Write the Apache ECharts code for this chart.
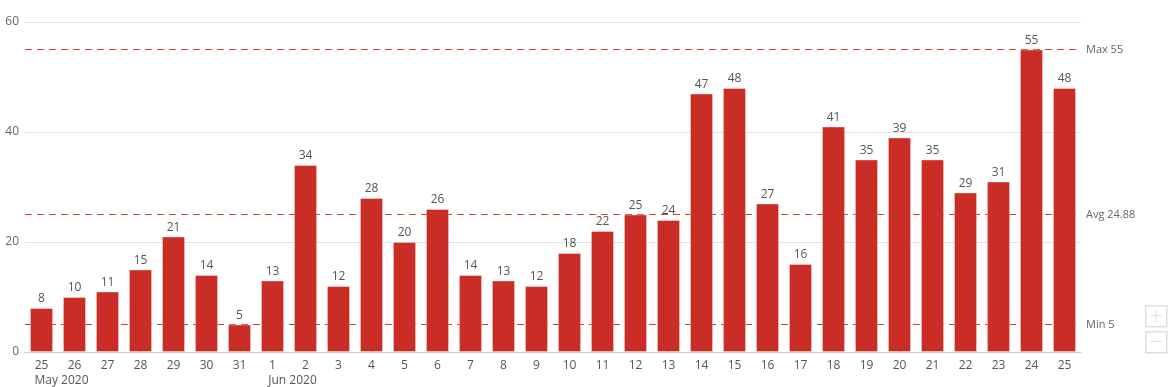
<!DOCTYPE html>
<html>
<head>
<meta charset="utf-8">
<script src="https://cdn.jsdelivr.net/npm/echarts@6/dist/echarts.min.js"></script>
<style>
html,body{margin:0;padding:0;background:#fff;}
#chart{width:1168px;height:387px;}
</style>
</head>
<body>
<div id="chart"></div>
<script>
const days = ['25','26','27','28','29','30','31','1','2','3','4','5','6','7','8','9','10','11','12','13','14','15','16','17','18','19','20','21','22','23','24','25'];
const monthLabels = {0: 'May 2020', 7: 'Jun 2020'};
const values = [8,10,11,15,21,14,5,13,34,12,28,20,26,14,13,12,18,22,25,24,47,48,27,16,41,35,39,35,29,31,55,48];
const yTicks = {min: 0, max: 60, interval: 20};

const barColor = '#c92d25';
const font = 'Open Sans';
const maxV = Math.max.apply(null, values);
const minV = Math.min.apply(null, values);
const avgV = values.reduce((a, b) => a + b, 0) / values.length;

const chart = echarts.init(document.getElementById('chart'));
chart.setOption({
  animation: false,
  textStyle: {fontFamily: font},
  grid: {left: 25, right: 87, top: 22, bottom: 35, outerBoundsMode: 'none', containLabel: false},
  xAxis: {
    type: 'category',
    data: days,
    axisLine: {lineStyle: {color: '#cccccc'}},
    axisTick: {alignWithLabel: true, length: 5, lineStyle: {color: '#cccccc'}},
    axisLabel: {
      interval: 0,
      margin: 6,
      color: '#555',
      fontSize: 12,
      fontFamily: font,
      formatter: function (v, i) {
        return monthLabels[i] ? '{d|' + v + '}\n{m|' + monthLabels[i] + '}' : '{d|' + v + '}';
      },
      rich: {
        d: {fontSize: 12, color: '#555', fontFamily: font, lineHeight: 15},
        m: {fontSize: 12, color: '#555', fontFamily: font, lineHeight: 15, padding: [0, 0, 0, 40]}
      }
    }
  },
  yAxis: {
    type: 'value',
    min: yTicks.min, max: yTicks.max, interval: yTicks.interval,
    axisLine: {show: false},
    axisTick: {show: false},
    axisLabel: {color: '#666', fontSize: 12, margin: 6, fontFamily: font},
    splitLine: {lineStyle: {color: '#e2e2e2'}}
  },
  series: [
    {
      type: 'bar',
      data: values,
      z: 3,
      barWidth: '70%',
      itemStyle: {color: barColor, borderColor: 'rgba(255,255,255,0.35)', borderWidth: 1},
      label: {show: true, position: 'top', distance: 3, color: '#555', fontSize: 12, fontFamily: font}
    }
  ],
  graphic: [
    {type: 'rect', left: 1145, top: 305, shape: {width: 21, height: 21}, style: {fill: '#fff', stroke: '#e0e0e0', lineWidth: 1.5}},
    {type: 'rect', left: 1150, top: 315, shape: {width: 12, height: 1}, style: {fill: '#e0e0e0'}},
    {type: 'rect', left: 1155.5, top: 309.5, shape: {width: 1, height: 12}, style: {fill: '#e0e0e0'}},
    {type: 'rect', left: 1145, top: 331, shape: {width: 21, height: 21}, style: {fill: '#fff', stroke: '#e0e0e0', lineWidth: 1.5}},
    {type: 'rect', left: 1150, top: 341, shape: {width: 12, height: 1}, style: {fill: '#e0e0e0'}}
  ]
});

// Reference lines (max / average / min) drawn beneath the bars, placed via the chart's own scales
function drawRefLines() {
  const xa = chart.convertToPixel({xAxisIndex: 0}, 0);
  const xb = chart.convertToPixel({xAxisIndex: 0}, 1);
  const xz = chart.convertToPixel({xAxisIndex: 0}, values.length - 1);
  const band = xb - xa;
  const x0 = xa - band / 2;
  const x1 = xz + band / 2;
  const items = [['Max', maxV], ['Avg', avgV], ['Min', minV]];
  const g = [];
  items.forEach(function (it, k) {
    const y = Math.round(chart.convertToPixel({yAxisIndex: 0}, it[1])) - 0.5;
    g.push({id: 'rl' + k, type: 'line', z: 1, silent: true,
      shape: {x1: x0, y1: y, x2: x1, y2: y},
      style: {stroke: '#db3a31', lineWidth: 1.2, lineDash: [7, 5]}});
    g.push({id: 'rt' + k, type: 'text', z: 1, silent: true, x: x1 + 5, y: y + 0.5,
      style: {text: it[0] + ' ' + (Math.round(it[1] * 100) / 100), fill: '#666', font: '11px "Open Sans"', verticalAlign: 'middle', align: 'left'}});
  });
  chart.setOption({graphic: g});
}
drawRefLines();
</script>
</body>
</html>
